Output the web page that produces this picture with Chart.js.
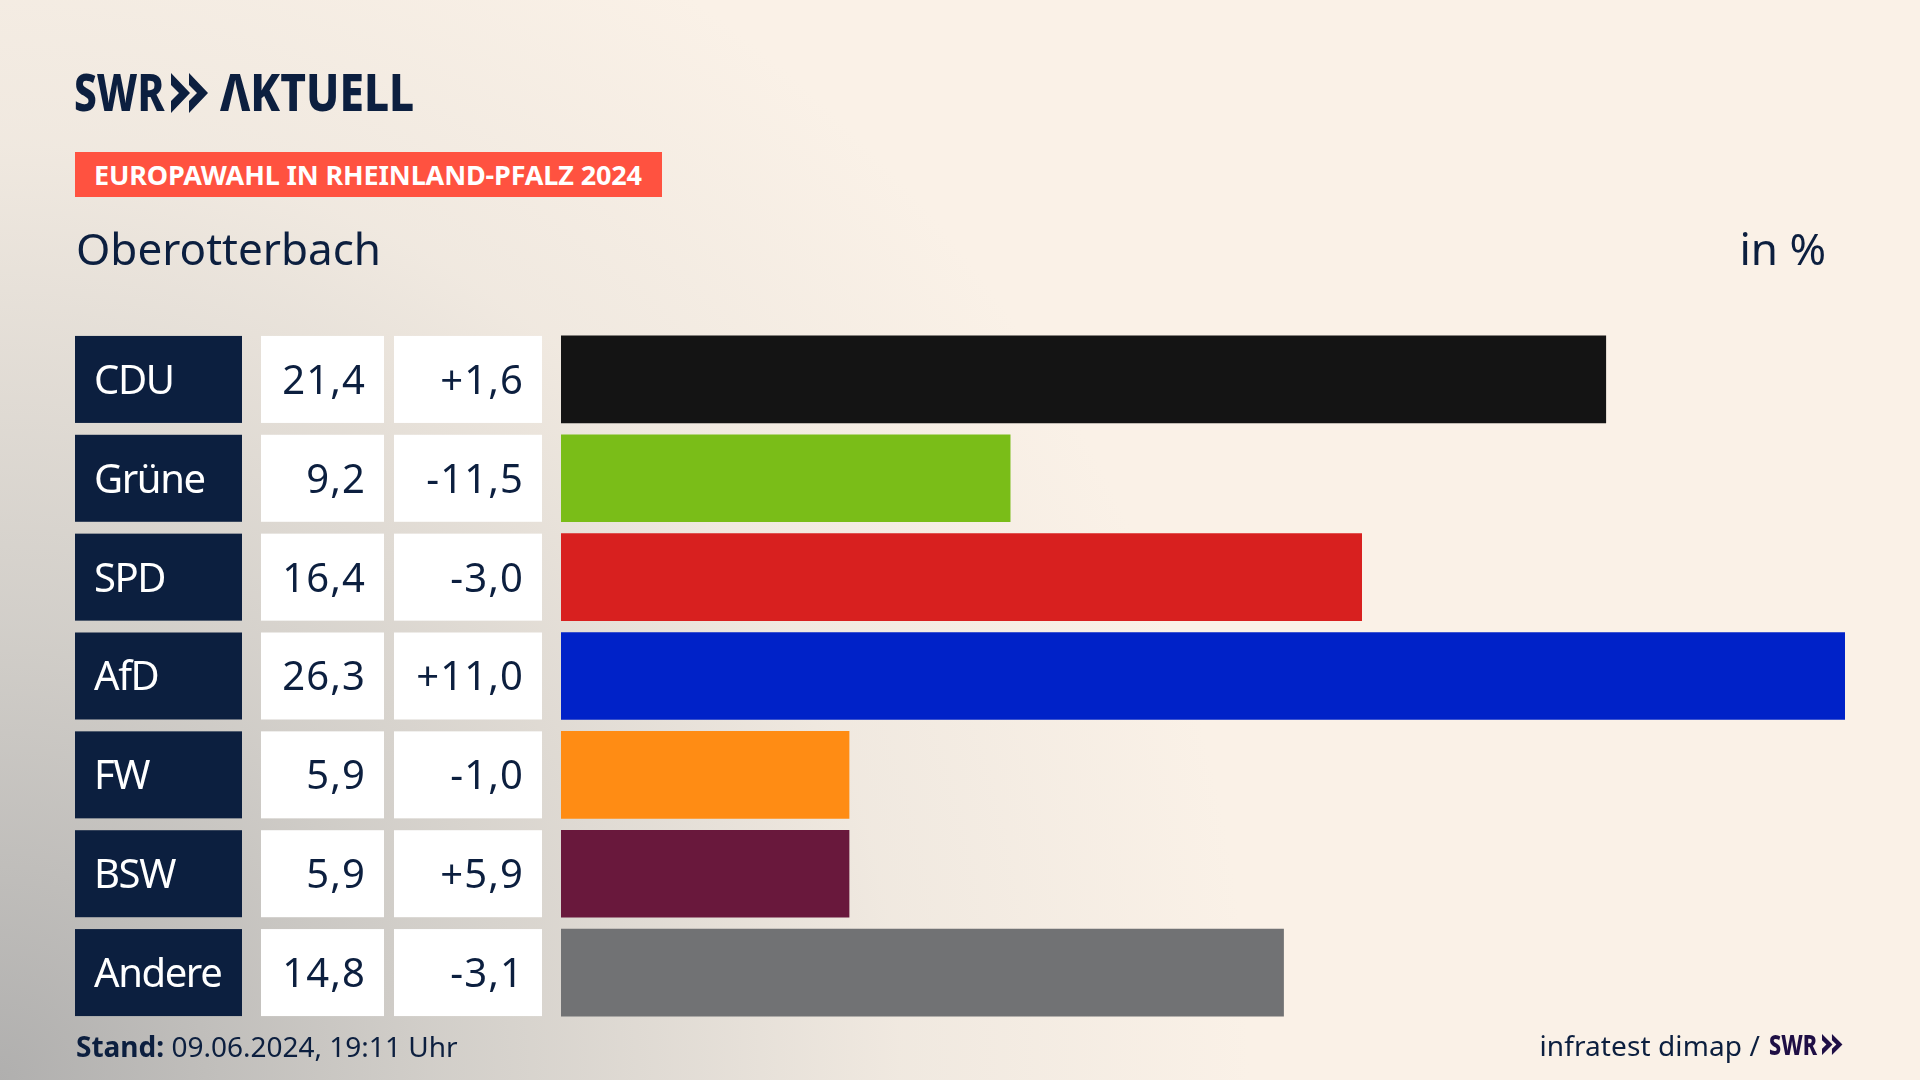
<!DOCTYPE html>
<html lang="de">
<head>
<meta charset="utf-8">
<title>Europawahl in Rheinland-Pfalz 2024 - Oberotterbach</title>
<script src="https://cdn.jsdelivr.net/npm/chart.js@4/dist/chart.umd.min.js"></script>
<style>
  html, body { margin: 0; padding: 0; }
  body {
    width: 1920px; height: 1080px; overflow: hidden; position: relative;
    color: #0c1f3f; font-family: "Noto Sans", sans-serif;
    background:
      radial-gradient(ellipse 1250px 1300px at 0 1080px, rgba(168,168,168,.9) 0%, rgba(200,198,194,.8) 35%, rgba(232,226,218,.55) 72%, rgba(250,241,231,0) 100%),
      #faf1e7;
  }
  canvas { position: absolute; left: 0; top: 0; }
  .txt { position: absolute; white-space: nowrap; line-height: 1; }
  #logo { left: 74px; top: 65px; font-weight: 800; font-size: 52px; transform: scaleX(.78); transform-origin: 0 0; }
  #logo2 { left: 220px; top: 65px; font-weight: 800; font-size: 52px; transform: scaleX(.85); transform-origin: 0 0; }
  #tag { left: 75px; top: 152px; width: 587px; height: 45px; background: #ff5240; }
  #tagtxt { left: 94px; top: 161px; color: #fff; font-weight: 700; font-size: 27px; letter-spacing: -.15px; }
  #place { left: 76px; top: 226px; font-size: 44px; }
  #unit { right: 94px; top: 226px; font-size: 44px; }
  #stand { left: 76px; top: 1032px; font-size: 28px; }
  #source { right: 160px; top: 1031px; font-size: 28px; letter-spacing: .1px; }
  #swr { left: 1769px; top: 1030px; color: #1f0f45; font-weight: 800; font-size: 28px; transform: scaleX(.77); transform-origin: 0 0; }
</style>
</head>
<body>
<canvas id="myChart" width="1920" height="1080"></canvas>
<div class="txt" id="logo">SWR</div>
<svg style="position:absolute;left:171px;top:73px" width="38" height="40" viewBox="0 0 38 40">
  <polygon fill="#0c1f3f" points="0,0 19,20 0,40 0,28 8,20 0,12"/>
  <polygon fill="#0c1f3f" points="18,0 37,20 18,40 18,28 26,20 18,12"/>
</svg>
<div class="txt" id="logo2">ΛKTUELL</div>
<div class="txt" id="tag"></div>
<div class="txt" id="tagtxt">EUROPAWAHL IN RHEINLAND-PFALZ 2024</div>
<div class="txt" id="place">Oberotterbach</div>
<div class="txt" id="unit">in %</div>
<div class="txt" id="stand"><b>Stand:</b> 09.06.2024, 19:11 Uhr</div>
<div class="txt" id="source">infratest dimap /</div>
<div class="txt" id="swr">SWR</div>
<svg style="position:absolute;left:1822px;top:1034px" width="21" height="21" viewBox="0 0 38 40" preserveAspectRatio="none">
  <polygon fill="#1f0f45" points="0,0 19,20 0,40 0,28 8,20 0,12"/>
  <polygon fill="#1f0f45" points="18,0 37,20 18,40 18,28 26,20 18,12"/>
</svg>
<script>
const parties = ['CDU', 'Grüne', 'SPD', 'AfD', 'FW', 'BSW', 'Andere'];
const shares = [21.4, 9.2, 16.4, 26.3, 5.9, 5.9, 14.8];
const changes = ['+1,6', '-11,5', '-3,0', '+11,0', '-1,0', '+5,9', '-3,1'];
const partyColors = ['#141414', '#7abd18', '#d8201f', '#0022c8', '#ff8c14', '#69183c', '#717274'];

const navy = '#0c1f3f';
const labelFont = '40px "Noto Sans", sans-serif';

// name box and the two white number cells left of each bar
const rowCells = {
  id: 'rowCells',
  afterDatasetsDraw(chart) {
    const c = chart.ctx;
    const bars = chart.getDatasetMeta(0).data;
    c.save();
    c.font = labelFont;
    c.textBaseline = 'middle';
    bars.forEach((bar, i) => {
      const top = bar.y - bar.height / 2;
      c.fillStyle = navy;
      c.fillRect(75, top, 167, bar.height);
      c.fillStyle = '#fff';
      c.fillRect(261, top, 123, bar.height);
      c.fillRect(394, top, 148, bar.height);

      c.textAlign = 'left';
      c.letterSpacing = '-1.4px';
      c.fillText(parties[i], 94, bar.y + 3);
      c.fillStyle = navy;
      c.textAlign = 'right';
      c.letterSpacing = '1.1px';
      c.fillText(shares[i].toFixed(1).replace('.', ','), 366, bar.y + 3);
      c.fillText(changes[i], 524, bar.y + 3);
    });
    c.restore();
  }
};

new Chart(document.getElementById('myChart'), {
  type: 'bar',
  data: {
    labels: parties,
    datasets: [{
      label: 'in %',
      data: shares,
      backgroundColor: partyColors,
      borderWidth: 0,
      barThickness: 87
    }]
  },
  options: {
    indexAxis: 'y',
    responsive: false,
    animation: false,
    devicePixelRatio: 1,
    layout: { padding: { left: 561, right: 75, top: 330, bottom: 58 } },
    scales: {
      x: { display: false, min: 0, max: 26.3 },
      y: { display: false }
    },
    plugins: {
      legend: { display: false },
      tooltip: { enabled: false }
    }
  },
  plugins: [rowCells]
});
</script>
</body>
</html>
